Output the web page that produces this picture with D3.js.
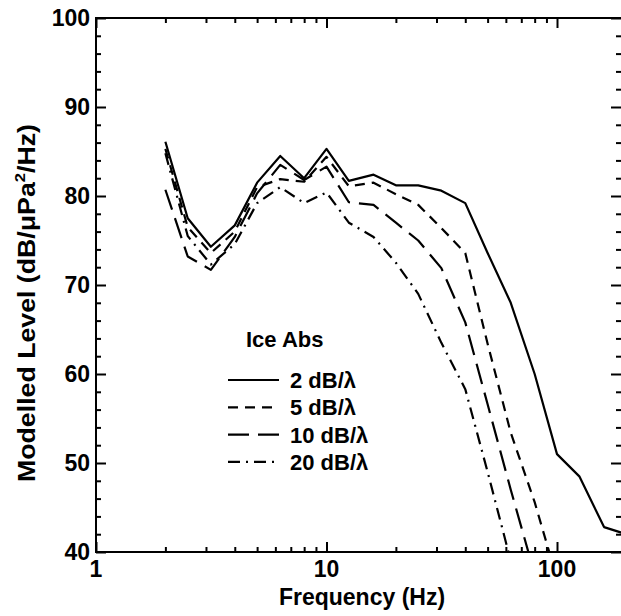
<!DOCTYPE html>
<html>
<head>
<meta charset="utf-8">
<script src="https://cdn.jsdelivr.net/npm/d3@7"></script>
<style>
  body { margin: 0; background: #fff; }
  svg { display: block; font-family: "Liberation Sans", Arial, sans-serif; font-weight: bold; }
  .axis path { display: none; }
  .axis line { stroke: #000; stroke-width: 2px; }
</style>
</head>
<body>
<script>
// third-octave band centres (Hz)
var freq = [2, 2.5, 3.15, 4, 5, 6.3, 8, 10, 12.5, 16, 20, 25, 31.5, 40, 50, 63, 80, 100, 125, 160, 200];

// modelled level (dB re 1 uPa^2/Hz) for each ice absorption
var abs2  = [86.1, 77.5, 74.3, 76.7, 81.5, 84.5, 82.0, 85.3, 81.7, 82.4, 81.2, 81.2, 80.6, 79.2, 73.6, 68.0, 60.0, 51.0, 48.5, 42.8, 42.0];
var abs5  = [85.3, 76.5, 73.6, 76.0, 81.0, 81.9, 81.6, 84.4, 81.1, 81.5, 80.2, 79.0, 76.4, 73.6, 63.4, 53.4, 45.6, 37.0];
var abs10 = [80.7, 73.2, 71.7, 75.4, 80.3, 83.5, 81.8, 83.3, 79.3, 79.0, 77.0, 75.0, 71.9, 65.8, 56.6, 47.0, 37.5];
var abs20 = [84.8, 75.5, 72.3, 74.6, 79.2, 81.0, 79.2, 80.4, 77.0, 75.4, 72.5, 69.0, 63.5, 58.3, 49.0, 39.0];

var seriesNames = ["2 dB/\u03bb", "5 dB/\u03bb", "10 dB/\u03bb", "20 dB/\u03bb"];
var seriesValues = [abs2, abs5, abs10, abs20];
var dashes = [null, "10,7", "21,9", "12,6,2,6"];

var xMajor = [1, 10, 100];
var xMinor = [2, 3, 4, 5, 6, 7, 8, 9, 20, 30, 40, 50, 60, 70, 80, 90];
var yMajor = [40, 50, 60, 70, 80, 90, 100];
var yMinor = d3.range(42, 100, 2).filter(function (d) { return d % 10 !== 0; });

var W = 621, H = 616;
var pL = 96, pR = 622, pT = 18, pB = 552;

var x = d3.scaleLog().domain([1, Math.pow(10, (pR - pL) / 230.5)]).range([pL, pR]);
var y = d3.scaleLinear().domain([40, 100]).range([pB, pT]);

var svg = d3.select("body").append("svg").attr("width", W).attr("height", H);

svg.append("clipPath").attr("id", "plot")
  .append("rect").attr("x", pL).attr("y", pT)
  .attr("width", pR - pL).attr("height", pB - pT);

// ticks on all four sides, pointing inward
function ticks(axis, vals, len, tr) {
  svg.append("g").attr("class", "axis").attr("transform", tr)
    .call(axis.tickValues(vals).tickSize(len).tickFormat(""));
}
ticks(d3.axisBottom(x), xMajor, -10, "translate(0," + pB + ")");
ticks(d3.axisBottom(x), xMinor, -5, "translate(0," + pB + ")");
ticks(d3.axisTop(x), xMajor, -10, "translate(0," + pT + ")");
ticks(d3.axisTop(x), xMinor, -5, "translate(0," + pT + ")");
ticks(d3.axisLeft(y), yMajor, -10, "translate(" + pL + ",0)");
ticks(d3.axisLeft(y), yMinor, -5, "translate(" + pL + ",0)");
ticks(d3.axisRight(y), yMajor, -10, "translate(" + (pR - 1) + ",0)");
ticks(d3.axisRight(y), yMinor, -5, "translate(" + (pR - 1) + ",0)");

svg.append("rect").attr("x", pL).attr("y", pT)
  .attr("width", pR - pL).attr("height", pB - pT)
  .attr("fill", "none").attr("stroke", "#000").attr("stroke-width", 2);

// tick labels
svg.selectAll(".xl").data(xMajor).enter().append("text")
  .attr("x", function (d) { return x(d); }).attr("y", 577)
  .attr("text-anchor", "middle").attr("font-size", 23)
  .text(function (d) { return d; });
svg.selectAll(".yl").data(yMajor).enter().append("text")
  .attr("x", 90).attr("y", function (d) { return y(d) + 8; })
  .attr("text-anchor", "end").attr("font-size", 23)
  .text(function (d) { return d; });

svg.append("text").attr("x", 362).attr("y", 605)
  .attr("text-anchor", "middle").attr("font-size", 23)
  .text("Frequency (Hz)");

var yt = svg.append("text").attr("transform", "translate(35,303) rotate(-90)")
  .attr("text-anchor", "middle").attr("font-size", 24)
  .attr("textLength", 358).attr("lengthAdjust", "spacingAndGlyphs");
yt.append("tspan").text("Modelled Level (dB/\u03bcPa");
yt.append("tspan").attr("font-size", 15).attr("dy", -10).text("2");
yt.append("tspan").attr("dy", 10).text("/Hz)");

// curves
var line = d3.line()
  .x(function (d, i) { return x(freq[i]); })
  .y(function (d) { return y(d); });

var g = svg.append("g").attr("clip-path", "url(#plot)");
seriesValues.forEach(function (vals, k) {
  g.append("path").attr("d", line(vals))
    .attr("fill", "none").attr("stroke", "#000")
    .attr("stroke-width", 2.2)
    .attr("stroke-linejoin", "round")
    .attr("stroke-dasharray", dashes[k]);
});

// legend
svg.append("text").attr("x", 246).attr("y", 347).attr("font-size", 22).text("Ice Abs");
seriesNames.forEach(function (name, k) {
  var ly = 380 + k * 27.3;
  svg.append("line").attr("x1", 228).attr("x2", 279).attr("y1", ly).attr("y2", ly)
    .attr("stroke", "#000").attr("stroke-width", 2.2)
    .attr("stroke-dasharray", dashes[k]);
  svg.append("text").attr("x", 290).attr("y", ly + 8).attr("font-size", 22).text(name);
});
</script>
</body>
</html>
